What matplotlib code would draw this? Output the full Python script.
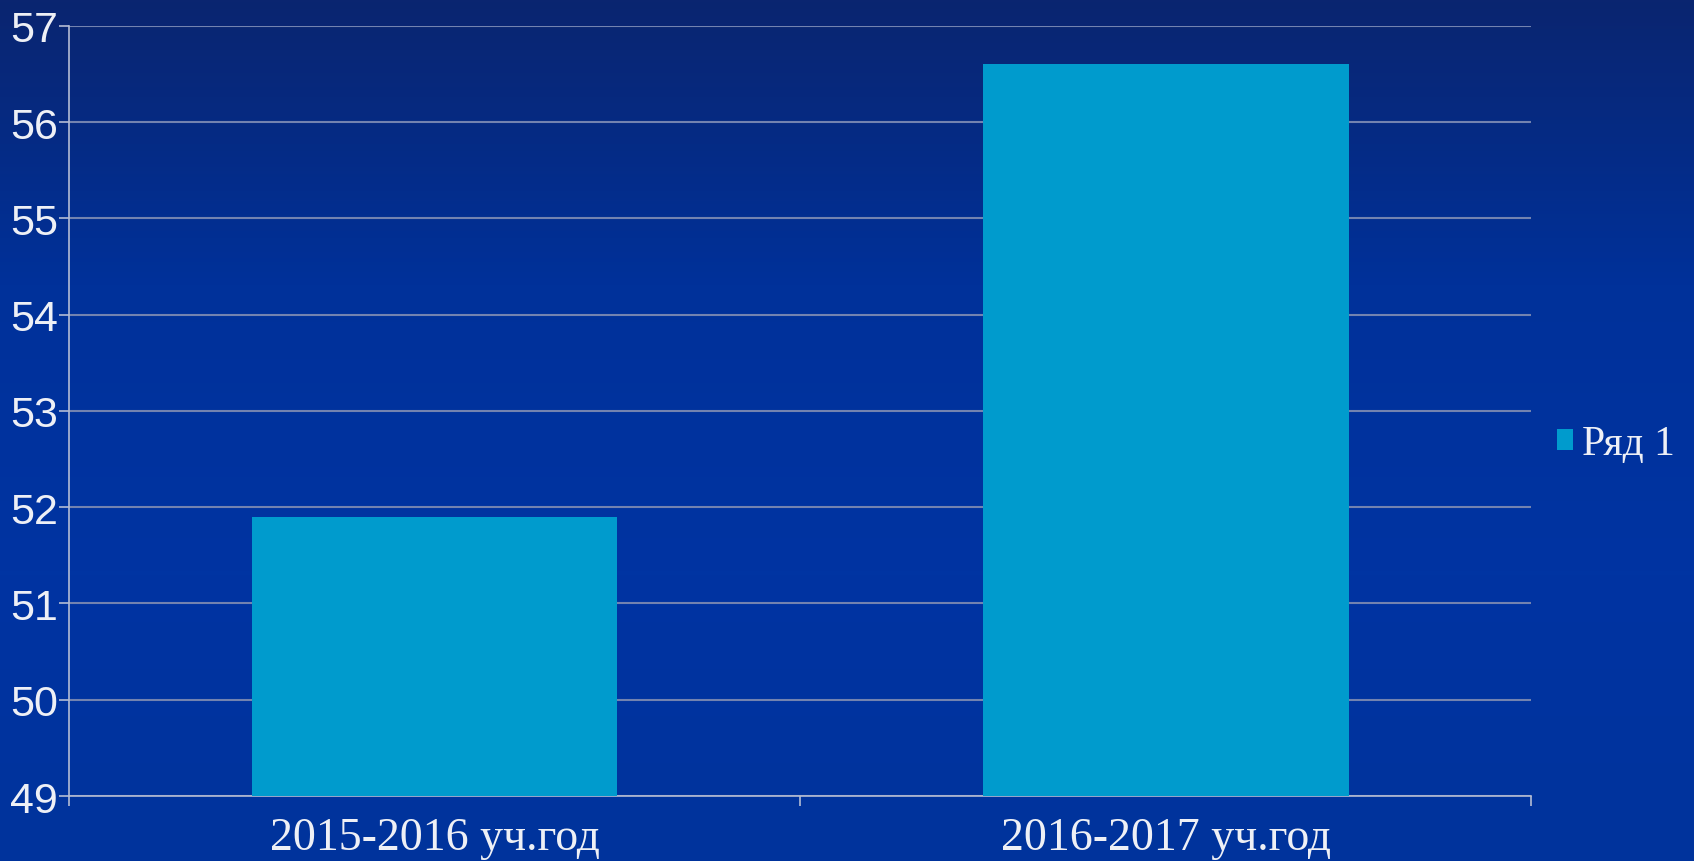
import matplotlib.pyplot as plt
import numpy as np
from matplotlib.colors import LinearSegmentedColormap

# data
years = ['2015-2016 уч.год', '2016-2017 уч.год']
values = [51.9, 56.6]
series_name = 'Ряд 1'

bar_col = '#009bcd'
txt_col = '#eef0f6'
grid_col = '#7383b0'

fig = plt.figure(figsize=(16.94, 8.62), dpi=100)

# background gradient (dark navy at top to royal blue)
bg = fig.add_axes([0, 0, 1, 1], zorder=-10)
cmap = LinearSegmentedColormap.from_list('bg', ['#0a2570', '#00319a', '#0034a2', '#00339c'])
grad = np.linspace(0, 1, 256).reshape(-1, 1)
bg.imshow(grad, cmap=cmap, aspect='auto', extent=[0, 1, 0, 1], origin='upper')
bg.axis('off')

ax = fig.add_axes([0.0407, 0.0754, 0.8633, 0.8933])
ax.patch.set_alpha(0)

x = np.arange(len(years))
ax.bar(x, values, width=0.5, color=bar_col, label=series_name, zorder=3)

ax.set_xlim(-0.5, len(years) - 0.5)
ax.set_ylim(49, 57)
ax.set_yticks(range(49, 58))
ax.yaxis.grid(True, color=grid_col, linewidth=1.5, zorder=0)

for s in ['top', 'right']:
    ax.spines[s].set_visible(False)
for s in ['left', 'bottom']:
    ax.spines[s].set_color('#b4bcd4')
    ax.spines[s].set_linewidth(1.2)

# category ticks sit on the boundaries, labels in the middle
ax.set_xticks([-0.5, 0.5, 1.5])
ax.set_xticklabels([])
ax.set_xticks(x, minor=True)
ax.set_xticklabels(years, minor=True, fontsize=33, color=txt_col,
                   family=['Liberation Serif'])
ax.tick_params(axis='x', which='major', length=7, color='#b4bcd4', width=1.2)
ax.tick_params(axis='x', which='minor', length=0, pad=15)

ax.tick_params(axis='y', length=7, color='#b4bcd4', width=1.2, pad=1)
for lab in ax.get_yticklabels():
    lab.set_fontsize(31)
    lab.set_color(txt_col)
    lab.set_family(['Liberation Sans'])

leg = fig.legend(loc='center left', bbox_to_anchor=(0.919, 0.484), frameon=False,
                 prop={'family': 'Liberation Serif', 'size': 30},
                 handlelength=0.4, handleheight=0.4, handletextpad=0.2,
                 borderaxespad=0, borderpad=0)
for t in leg.get_texts():
    t.set_color(txt_col)

fig.savefig('out.png', dpi=100)
